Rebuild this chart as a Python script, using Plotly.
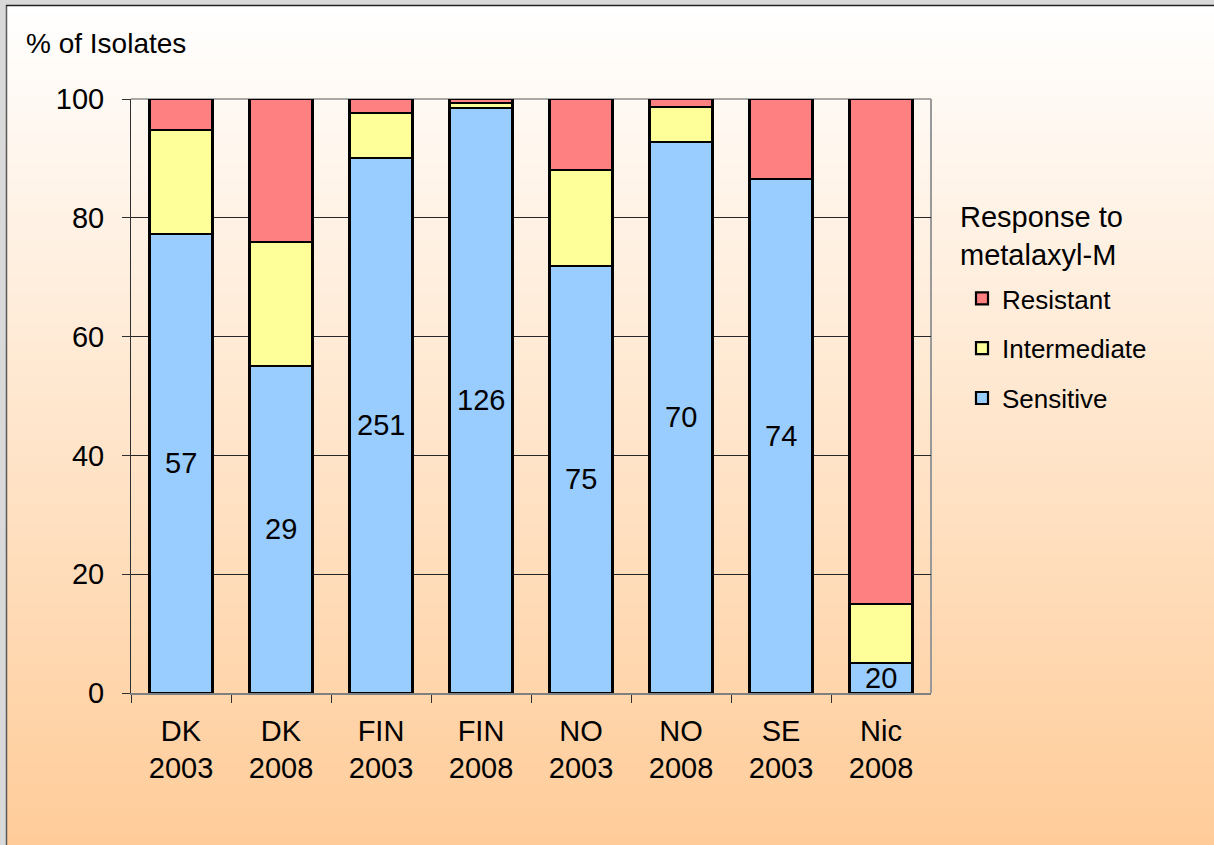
import base64, struct, zlib
import plotly.graph_objects as go

# ---- data ----
categories = ["DK<br>2003", "DK<br>2008", "FIN<br>2003", "FIN<br>2008",
              "NO<br>2003", "NO<br>2008", "SE<br>2003", "Nic<br>2008"]
sensitive = [77.3, 55.1, 90.1, 98.5, 71.9, 92.8, 86.5, 5.0]
intermediate = [17.5, 20.8, 7.5, 0.8, 16.1, 5.9, 0.0, 10.0]
resistant = [5.2, 24.1, 2.4, 0.7, 12.0, 1.3, 13.5, 85.0]
isolates = [57, 29, 251, 126, 75, 70, 74, 20]
y_ticks = [0, 20, 40, 60, 80, 100]

W, H = 1214, 845
FONT = "Liberation Sans, Arial, sans-serif"


def gradient_png(h, top, bot):
    rows = []
    for i in range(h):
        t = i / (h - 1)
        rgb = bytes(int(round(top[k] + (bot[k] - top[k]) * t)) for k in range(3))
        rows.append(b"\x00" + rgb)
    raw = b"".join(rows)

    def chunk(tag, data):
        return (struct.pack(">I", len(data)) + tag + data +
                struct.pack(">I", zlib.crc32(tag + data) & 0xffffffff))

    ihdr = struct.pack(">IIBBBBB", 1, h, 8, 2, 0, 0, 0)
    png = (b"\x89PNG\r\n\x1a\n" + chunk(b"IHDR", ihdr) +
           chunk(b"IDAT", zlib.compress(raw)) + chunk(b"IEND", b""))
    return "data:image/png;base64," + base64.b64encode(png).decode()


grad = gradient_png(256, (255, 255, 255), (255, 204, 153))

fig = go.Figure()
line = dict(color="black", width=2.2)
fig.add_trace(go.Bar(x=categories, y=sensitive, name="Sensitive",
                     marker=dict(color="#99CCFF", line=line), legendgroup="s",
                     legendrank=3))
fig.add_trace(go.Bar(x=categories, y=intermediate, name="Intermediate",
                     marker=dict(color="#FFFF99", line=line), legendgroup="i",
                     legendrank=2))
fig.add_trace(go.Bar(x=categories, y=resistant, name="Resistant",
                     marker=dict(color="#FF8080", line=line), legendgroup="r",
                     legendrank=1))

for c, s, n in zip(categories, sensitive, isolates):
    fig.add_annotation(x=c, y=s / 2, text=str(n), showarrow=False,
                       font=dict(size=29, color="black", family=FONT))

x0, x1 = 131 / W, 931 / W
y0, y1 = 1 - 693 / H, 1 - 99 / H

fig.update_layout(
    width=W, height=H,
    margin=dict(l=0, r=0, t=0, b=0, pad=0),
    template="none",
    barmode="stack", bargap=0.37,
    paper_bgcolor="#d9d9d9", plot_bgcolor="rgba(0,0,0,0)",
    font=dict(family=FONT, color="black", size=29),
    images=[dict(source=grad, xref="paper", yref="paper",
                 x=7 / W, y=1 - 6 / H, sizex=(W - 7) / W, sizey=(H - 6) / H,
                 xanchor="left", yanchor="top", sizing="stretch", layer="below")],
    xaxis=dict(domain=[x0, x1], tickson="boundaries", ticks="outside", ticklen=8,
               tickcolor="#303030", showline=True, linecolor="#808080", linewidth=1.5,
               showgrid=False, tickfont=dict(size=29), automargin=False,
               ticklabelstandoff=11, fixedrange=True),
    yaxis=dict(domain=[y0, y1], range=[0, 100], tickvals=y_ticks, ticks="outside",
               ticklen=8, tickcolor="#303030", showline=True, linecolor="#303030",
               linewidth=1, showgrid=True, gridcolor="#262626", gridwidth=1,
               zeroline=False, tickfont=dict(size=29), automargin=False,
               ticklabelstandoff=12),
    legend=dict(x=962 / W, y=1 - 275 / H, xanchor="left", yanchor="top",
                bgcolor="rgba(0,0,0,0)", font=dict(size=26),
                traceorder="grouped", tracegroupgap=13),
    showlegend=True,
)

# legend title
fig.add_annotation(text="Response to<br>metalaxyl-M", xref="paper", yref="paper",
                   x=958 / W, y=1 - 236 / H, xanchor="left", yanchor="middle",
                   align="left", showarrow=False, font=dict(size=29, color="black"))

# plot area border (top & right in grey)
fig.add_shape(type="line", xref="paper", yref="paper", x0=x0, x1=x1, y0=y1, y1=y1,
              line=dict(color="#8c8c8c", width=1.5), layer="below")
fig.add_shape(type="line", xref="paper", yref="paper", x0=x1, x1=x1, y0=y0, y1=y1,
              line=dict(color="#999999", width=2), layer="below")
# slide frame lines
fig.add_shape(type="line", xref="paper", yref="paper", x0=6.5 / W, x1=6.5 / W,
              y0=0, y1=1 - 5 / H, line=dict(color="#5a5a5a", width=1.5))
fig.add_shape(type="line", xref="paper", yref="paper", x0=6 / W, x1=1,
              y0=1 - 5.5 / H, y1=1 - 5.5 / H, line=dict(color="#222222", width=1.5))

fig.add_annotation(text="% of Isolates", xref="paper", yref="paper",
                   x=24 / W, y=1 - 43 / H, xanchor="left", yanchor="middle",
                   showarrow=False, font=dict(size=28, color="black"))

fig.write_html("out.html")
